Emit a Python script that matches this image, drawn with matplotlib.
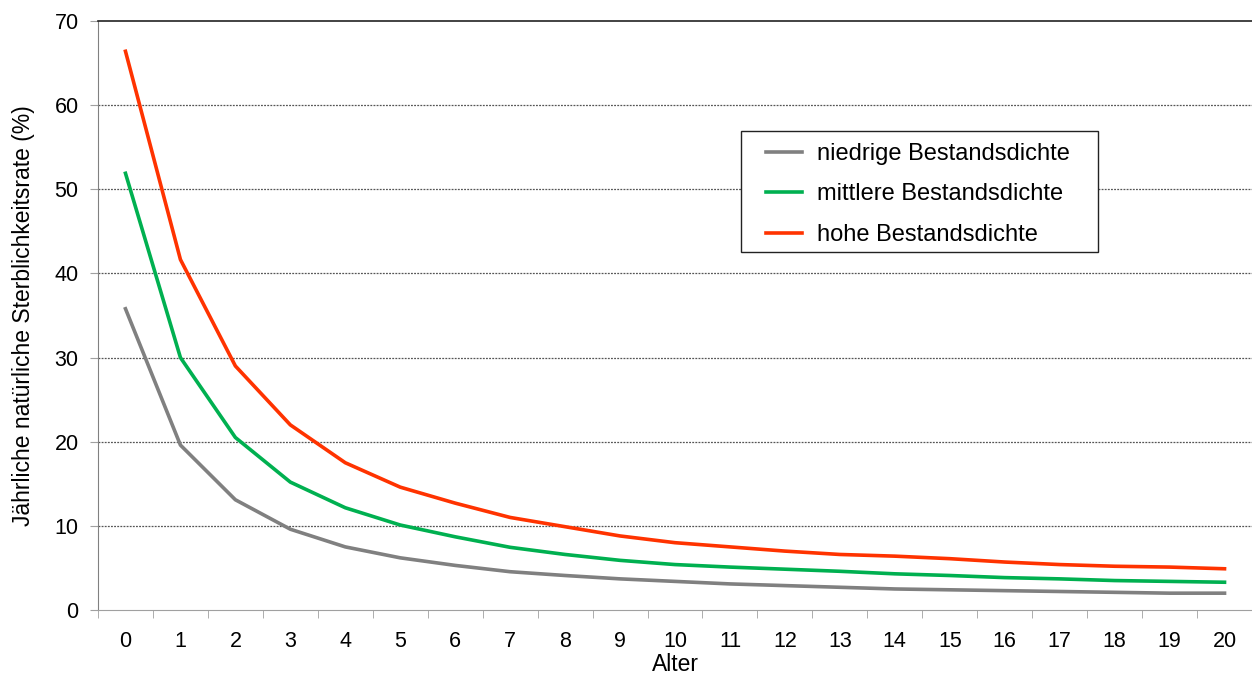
import numpy as np
import matplotlib.pyplot as plt
from matplotlib.patches import Rectangle

plt.rcParams['font.family'] = ['Liberation Sans', 'DejaVu Sans']

alter = list(range(0, 21))
niedrig = [35.8, 19.6, 13.1, 9.6, 7.5, 6.2, 5.3, 4.55, 4.1, 3.7, 3.4,
           3.1, 2.9, 2.7, 2.5, 2.4, 2.3, 2.2, 2.1, 2.0, 2.0]
mittel = [51.9, 30.0, 20.5, 15.2, 12.15, 10.1, 8.7, 7.45, 6.6, 5.9, 5.4,
          5.1, 4.85, 4.6, 4.3, 4.1, 3.85, 3.7, 3.5, 3.4, 3.3]
hoch = [66.4, 41.65, 29.0, 22.0, 17.5, 14.6, 12.7, 11.0, 9.9, 8.8, 8.0,
        7.5, 7.0, 6.6, 6.4, 6.1, 5.7, 5.4, 5.2, 5.1, 4.9]

fig = plt.figure(figsize=(12.52, 6.75), dpi=100)
ax = fig.add_axes([98/1252, 1 - 610/675, 1 - 98/1252, (610 - 21)/675])

ax.plot(alter, niedrig, color='#808080', lw=2.6, label='niedrige Bestandsdichte')
ax.plot(alter, mittel, color='#00b050', lw=2.6, label='mittlere Bestandsdichte')
ax.plot(alter, hoch, color='#ff3300', lw=2.6, label='hohe Bestandsdichte')

ax.set_xlim(-0.5, 20.5)
ax.set_ylim(0, 70)
ax.set_yticks(range(0, 71, 10))
ax.set_xticks(alter)
ax.set_xticks(np.arange(-0.5, 21, 1), minor=True)
ax.tick_params(axis='x', which='major', length=0, labelsize=15.5, pad=15)
ax.tick_params(axis='x', which='minor', length=6, color='#a0a0a0', direction='out')
ax.tick_params(axis='y', which='major', length=6, color='#a0a0a0', labelsize=15.5, pad=8)

for y in range(10, 70, 10):
    ax.axhline(y, color='#555555', lw=0.9, ls=(0, (1.5, 1)), zorder=0)

ax.spines['right'].set_visible(False)
ax.spines['top'].set_color('#222222')
ax.spines['top'].set_linewidth(1.2)
ax.spines['left'].set_color('#808080')
ax.spines['bottom'].set_color('#a0a0a0')

ax.set_xlabel('Alter', fontsize=16.5, labelpad=1)
ax.set_ylabel('Jährliche natürliche Sterblichkeitsrate (%)', fontsize=16.5, labelpad=14)

# legend box drawn separately so its padding matches the original
bx0 = (741 - 98) / 1154
by0 = 1 - (252 - 21) / 589
ax.add_patch(Rectangle((bx0, by0), (1098 - 741) / 1154, (252 - 131) / 589,
                       transform=ax.transAxes, facecolor='white',
                       edgecolor='#222222', lw=1.0, zorder=3))
leg = ax.legend(loc='upper left', bbox_to_anchor=((766 - 98)/1154, 1 - (143 - 21)/589),
                borderaxespad=0, borderpad=0, fontsize=17, frameon=False,
                handlelength=1.53, labelspacing=0.78, handletextpad=0.64)
leg.set_zorder(4)

plt.savefig('out.png', dpi=100)
